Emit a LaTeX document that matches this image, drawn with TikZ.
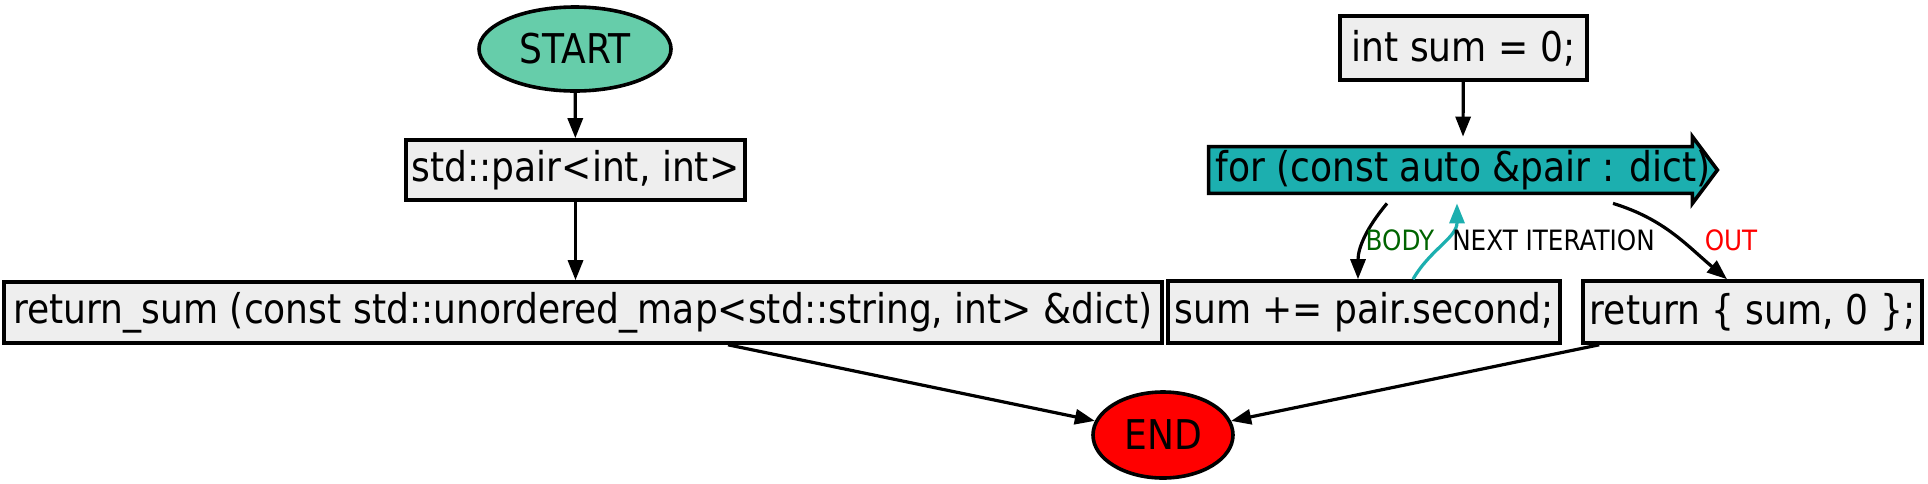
\documentclass[tikz,border=0pt]{standalone}
\usepackage{fontspec}
\setmainfont{DejaVu Sans}[FakeStretch=0.88]
\usetikzlibrary{arrows.meta,shapes.geometric,calc,backgrounds}
\definecolor{boxfill}{HTML}{EEEEEE}
\definecolor{startfill}{HTML}{66CDAA}
\definecolor{loopfill}{HTML}{1CAFAF}
\definecolor{bodygreen}{HTML}{006400}
\newcommand\mainsz{\fontsize{20.5pt}{24pt}\selectfont}
\newcommand\labsz{\fontsize{14pt}{16pt}\selectfont}
\begin{document}
\begin{tikzpicture}[x=0.5pt,y=-0.5pt,
  box/.style={draw, line width=1.8pt, fill=boxfill, inner sep=0pt, font=\mainsz},
  term/.style={draw, ellipse, line width=1.8pt, inner sep=0pt, font=\mainsz},
  conn/.style={line width=1.6pt, -{Triangle[length=10pt,width=7.5pt]}},
  lab/.style={inner sep=0pt, font=\labsz}]
\useasboundingbox (0,0) rectangle (1928,483);

\node[term, fill=startfill, minimum width=96pt, minimum height=42pt] (start) at (575,49) {START};
\node[box, minimum width=169.5pt, minimum height=30pt] (pair) at (575.5,170) {std::pair<int, int>};
\node[box, minimum width=579pt, minimum height=30.5pt] (rs) at (583,312.5) {return\_sum (const std::unordered\_map<std::string, int> \&dict)};
\node[term, fill=red, minimum width=70pt, minimum height=43pt] (end) at (1163,435) {END};

\node[box, minimum width=123.5pt, minimum height=32pt] (init) at (1463.5,48) {int sum = 0;};
\node[inner sep=0pt, minimum width=254pt, minimum height=23pt, font=\mainsz] (loop) at (1463,170) {for (const auto \&pair : dict)};
\begin{pgfonlayer}{background}
\draw[line width=1.8pt, fill=loopfill, line join=miter]
  (loop.north west) -- ([xshift=-12.5pt]loop.north east) -- ([xshift=-12.5pt,yshift=5pt]loop.north east)
  -- (loop.east) -- ([xshift=-12.5pt,yshift=-5pt]loop.south east)
  -- ([xshift=-12.5pt]loop.south east) -- (loop.south west) -- cycle;
\end{pgfonlayer}
\node[box, minimum width=196pt, minimum height=31pt] (body) at (1364,312) {sum += pair.second;};
\node[box, minimum width=169.5pt, minimum height=31pt] (ret) at (1752.5,312) {return \{ sum, 0 \};};

\draw[conn] (start) -- (pair);
\draw[conn] (pair.south) -- (pair.south |- rs.north);
\draw[conn] ([xshift=72.5pt]rs.south) -- (end);
\draw[conn] ([xshift=9pt]ret.south west) -- (end);
\draw[conn] (init) -- ([yshift=5pt]loop.north);
\draw[conn] ([xshift=-38pt,yshift=-5pt]loop.south) to[out=-130,in=90] ([xshift=-3pt]body.north);
\draw[conn, loopfill] ([xshift=24.5pt]body.north) to[out=60,in=-90] ([xshift=-3pt,yshift=-5pt]loop.south);
\draw[conn] ([xshift=75pt,yshift=-5pt]loop.south) to[out=-17,in=140] ([xshift=-12.75pt]ret.north);

\node[lab, text=bodygreen] (lbody) at (1400,240) {BODY};
\node[lab] (lnext) at (1553.5,240) {NEXT ITERATION};
\node[lab, text=red] (lout) at (1731,240) {OUT};
\end{tikzpicture}
\end{document}
